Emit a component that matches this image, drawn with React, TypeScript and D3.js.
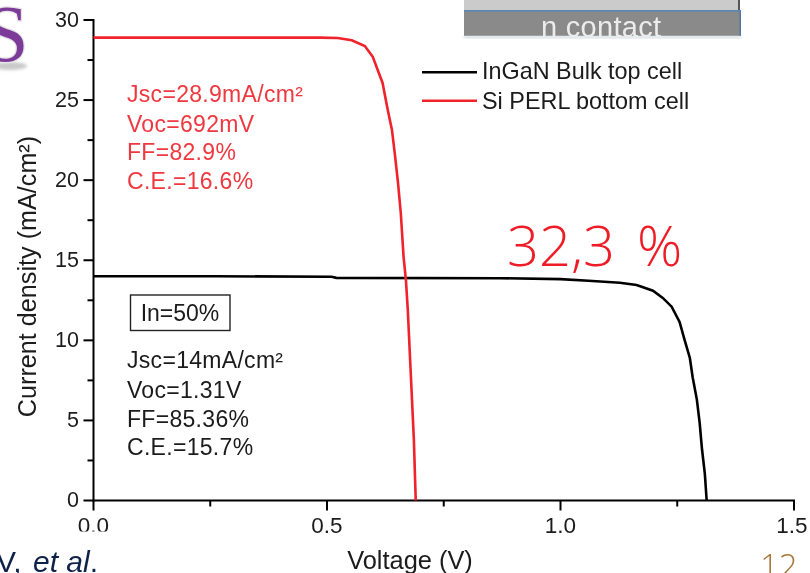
import React from "react";
import * as d3 from "d3";

const blackV = [0, 0.26, 0.51, 0.52, 0.87, 1.0, 1.06, 1.127, 1.163, 1.198, 1.219, 1.238, 1.255, 1.266, 1.277, 1.283, 1.292, 1.298, 1.303, 1.309, 1.313];
const blackJ = [14, 14, 13.97, 13.9, 13.88, 13.82, 13.72, 13.6, 13.46, 13.1, 12.65, 12.1, 11.15, 10.0, 8.9, 7.7, 6.3, 4.85, 3.2, 1.7, 0];
const redV = [0, 0.25, 0.485, 0.523, 0.553, 0.581, 0.598, 0.619, 0.63, 0.639, 0.645, 0.652, 0.658, 0.664, 0.669, 0.673, 0.679, 0.686, 0.69];
const redJ = [28.9, 28.9, 28.9, 28.88, 28.73, 28.38, 27.7, 26.07, 24.4, 23.15, 21.7, 19.85, 17.95, 15.2, 13.76, 11.9, 8.16, 3.8, 0];
const xMajor = [0, 0.5, 1, 1.5];
const xMinor = [0.25, 0.75, 1.25];
const xLabels = ["0.0", "0.5", "1.0", "1.5"];
const yMajor = [0, 5, 10, 15, 20, 25, 30];
const yMinor = [2.5, 7.5, 12.5, 17.5, 22.5, 27.5];
const legendLabels = ["InGaN Bulk top cell", "Si PERL bottom cell"];
const redNotes = ["Jsc=28.9mA/cm²", "Voc=692mV", "FF=82.9%", "C.E.=16.6%"];
const redBase = [102, 131.5, 159.5, 188.5];
const blackNotes = ["Jsc=14mA/cm²", "Voc=1.31V", "FF=85.36%", "C.E.=15.7%"];
const blackBase = [368, 397.5, 426.5, 454.5];

const x = d3.scaleLinear().domain([0, 1.5]).range([93.5, 794]);
const y = d3.scaleLinear().domain([0, 30]).range([500.5, 20]);
const path = (vs: number[], js: number[]) =>
  d3.line<number>().x((v) => x(v)).y((_, i) => y(js[i]))(vs) || "";
const FONT = "Liberation Sans, Arial, sans-serif";

export default function App() {
  return (
    <svg width={810} height={573} style={{ position: "fixed", left: 0, top: 0, background: "#fff" }} fontFamily={FONT}>
      <defs>
        <filter id="soft" x="-5%" y="-5%" width="110%" height="110%"><feGaussianBlur stdDeviation="0.45" /></filter>
        <filter id="shadow" x="-20%" y="-50%" width="140%" height="200%"><feGaussianBlur stdDeviation="1.5" /></filter>
        <clipPath id="zeroClip"><rect x={60} y={505} width={70} height={26.5} /></clipPath>
      </defs>
      <g filter="url(#soft)">
        {/* logo fragment */}
        <ellipse cx={10} cy={66} rx={17} ry={4} fill="#c9c9c9" filter="url(#shadow)" />
        <text x={-16} y={61} fontFamily="Liberation Serif, serif" fontSize={80} fill="#7b3a98" stroke="#e4e4e4" strokeWidth={2.5} paintOrder="stroke">S</text>

        {/* device stack */}
        <rect x={464} y={0} width={275} height={10} fill="#cbcbcb" />
        <rect x={738} y={0} width={2} height={10} fill="#555" />
        <rect x={464} y={11} width={277} height={25} fill="#8a8a8a" />
        <rect x={464} y={10} width={277} height={1.6} fill="#5b86b5" />
        <rect x={739.5} y={11} width={1.5} height={25} fill="#4f78a5" />
        <rect x={464} y={36} width={277} height={2} fill="#c8d0d8" filter="url(#shadow)" />
        <text x={541} y={37} fontSize={29} textLength={120} fill="#ececec">n contact</text>

        {/* axes */}
        <g stroke="#000" strokeWidth={2} fill="none">
          <line x1={x(0)} x2={x(0)} y1={y(30) - 1} y2={y(0) + 1} />
          <line x1={x(0) - 1} x2={x(1.5) + 1} y1={y(0)} y2={y(0)} />
          {yMajor.map((t) => <line key={t} x1={x(0) - 10} x2={x(0)} y1={y(t)} y2={y(t)} />)}
          {yMinor.map((t) => <line key={t} x1={x(0) - 6} x2={x(0)} y1={y(t)} y2={y(t)} />)}
          {xMajor.map((t) => <line key={t} x1={x(t)} x2={x(t)} y1={y(0)} y2={y(0) + 10} />)}
          {xMinor.map((t) => <line key={t} x1={x(t)} x2={x(t)} y1={y(0)} y2={y(0) + 6} />)}
        </g>
        <g fontSize={21.5} fill="#1a1a1a" textAnchor="end">
          {yMajor.map((t) => <text key={t} x={79} y={y(t) + 6.5}>{t}</text>)}
        </g>
        <g fontSize={22.5} fill="#1a1a1a" textAnchor="middle">
          {xMajor.map((t, i) => (
            <text key={t} x={Math.min(x(t), 792)} y={533} clipPath={i === 0 ? "url(#zeroClip)" : undefined}>{xLabels[i]}</text>
          ))}
        </g>
        <text transform="translate(36,276.5) rotate(-90)" textAnchor="middle" fontSize={25.2} fill="#1a1a1a">Current density (mA/cm²)</text>
        <text x={410} y={568.5} textAnchor="middle" fontSize={25.4} fill="#1a1a1a">Voltage (V)</text>

        {/* curves */}
        <path d={path(blackV, blackJ)} fill="none" stroke="#000" strokeWidth={2.6} />
        <path d={path(redV, redJ)} fill="none" stroke="#f0202c" strokeWidth={2.6} />

        {/* legend */}
        <line x1={422} x2={477} y1={72.3} y2={72.3} stroke="#000" strokeWidth={2.4} />
        <line x1={422} x2={477} y1={100.7} y2={100.7} stroke="#f0202c" strokeWidth={2.4} />
        <text x={482} y={79.3} fontSize={23.4} fill="#1a1a1a">{legendLabels[0]}</text>
        <text x={482} y={109} fontSize={23.4} fill="#1a1a1a">{legendLabels[1]}</text>

        {/* annotations */}
        <g fontSize={23} letterSpacing={0.3} fill="#f0373f">
          {redNotes.map((t, i) => <text key={t} x={127} y={redBase[i]}>{t}</text>)}
        </g>
        <rect x={130.5} y={295} width={99.5} height={35.5} fill="none" stroke="#222" strokeWidth={1.4} />
        <text x={180} y={320.5} textAnchor="middle" fontSize={23} fill="#1a1a1a">In=50%</text>
        <g fontSize={23} letterSpacing={0.3} fill="#1a1a1a">
          {blackNotes.map((t, i) => <text key={t} x={127} y={blackBase[i]}>{t}</text>)}
        </g>
        <g fontSize={56} fontFamily="Open Sans, sans-serif" fontWeight={300} fill="#ee1c25">
          <text x={507} y={266}>32,3</text>
          <text x={637} y={266}>%</text>
        </g>

        {/* slide footer */}
        <text x={-4} y={571.7} fontSize={30} fill="#10204a">V,  <tspan x={33} fontStyle="italic">et al</tspan>.</text>
        <text x={760} y={578} fontSize={33} fontFamily="Open Sans, sans-serif" fontWeight={300} fill="#a87838">12</text>
      </g>
    </svg>
  );
}
